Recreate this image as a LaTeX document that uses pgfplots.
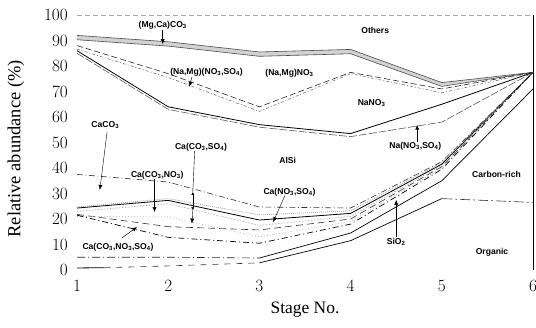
\documentclass[border=0pt]{standalone}
\usepackage{fontspec}
\setmainfont{Liberation Serif}
\newfontfamily\lab{Liberation Sans}
\usepackage{pgfplots}
\pgfplotsset{compat=1.18}
\usepgfplotslibrary{fillbetween}
\usetikzlibrary{arrows.meta}
\tikzset{ann/.style={font=\lab\bfseries\fontsize{8.6}{9}\selectfont, inner sep=0pt},
  arr/.style={black, line width=0.5bp, -{Latex[length=5bp,width=4bp]}}}
\begin{document}
\begin{tikzpicture}
\begin{axis}[at={(0,0)},anchor=south west,scale only axis,width=456bp,height=255bp,
  xmin=1,xmax=6,ymin=0,ymax=100,
  axis line style={draw=none}, major tick length=0pt,
  xtick={1,2,3,4,5,6}, ytick={0,10,...,100},
  tick label style={font=\fontsize{17.5}{18}\selectfont},
  yticklabel style={inner sep=0pt,anchor=east,xshift=-9bp},
  xticklabel style={inner sep=0pt,anchor=north,yshift=-10bp},
  xlabel={Stage No.}, ylabel={Relative abundance (\%)},
  xlabel style={font=\fontsize{17.5}{18}\selectfont,at={(axis description cs:0.5,-0.157)},anchor=center},
  ylabel style={font=\fontsize{18.5}{19}\selectfont,at={(axis description cs:-0.134,0.475)},anchor=center},
  clip=false]
% frame parts
\addplot[gray!70, line width=0.8bp, dash pattern=on 5bp off 3bp] coordinates {(1,100)(6,100)};
\addplot[black, line width=0.9bp] coordinates {(6,0)(6,100)};
% (Mg,Ca)CO3 band
\addplot[name path=T1, black!70, line width=0.6bp] coordinates {(1,92)(2,89.5)(3,85.5)(4,86.5)(5,73.5)(6,77.5)};
\addplot[name path=T2, black!70, line width=0.6bp] coordinates {(1,90.3)(2,87.8)(3,83.8)(4,84.8)(5,72)(6,77.5)};
\addplot[gray!35] fill between[of=T1 and T2];
% (Na,Mg)(NO3,SO4)
\addplot[black!85, line width=0.6bp, dash pattern=on 6bp off 3bp] coordinates {(1,88)(2,77)(3,64)(4,77.5)(5,71)(6,77.5)};
\addplot[black!55, line width=0.6bp, dash pattern=on 3bp off 2bp on 1bp off 2bp] coordinates {(1,86.6)(2,75.5)(3,62.2)(4,77)(5,69.5)(6,77.5)};
% Na(NO3,SO4)
\addplot[black, line width=0.8bp] coordinates {(1,86)(2,64)(3,57)(4,53.5)(5,65)(6,77.5)};
\addplot[black!65, line width=0.6bp, dash pattern=on 8bp off 2bp] coordinates {(1,85)(2,63)(3,56)(4,52.3)(5,58)(6,77.5)};
% AlSi lower (CaCO3 top)
\addplot[black!80, line width=0.6bp, dash pattern=on 6bp off 2.5bp on 1bp off 2.5bp] coordinates {(1,37.5)(2,34.5)(3,24.7)(4,24.3)(5,42.5)(6,77.5)};
% Ca lines
\addplot[gray!65, line width=0.8bp, dash pattern=on 1bp off 1bp] coordinates {(1,24.7)(2,28)(3,21.6)(4,23.2)(5,42)(6,77.5)};
\addplot[black, line width=0.8bp] coordinates {(1,24.3)(2,27.3)(3,19.6)(4,22.2)(5,41.5)(6,77.5)};
\addplot[gray!65, line width=0.6bp, dash pattern=on 1.5bp off 1.5bp] coordinates {(1,23)(2,26)(3,17.5)(4,21)(5,41)(6,77.5)};
\addplot[black!80, line width=0.6bp, dash pattern=on 7bp off 4bp] coordinates {(1,21.8)(2,17)(3,15.7)(4,20)(5,40.5)(6,77.5)};
\addplot[gray!65, line width=0.6bp, dash pattern=on 1bp off 2bp] coordinates {(1,21)(2,20.8)(3,13)(4,19)(5,40)(6,77.5)};
\addplot[black, line width=0.7bp, dash pattern=on 6bp off 3bp on 1bp off 3bp] coordinates {(1,21.5)(2,12.8)(3,10.5)(4,18)(5,39.5)(6,77.5)};
% Carbon-rich top / SiO2 bottom
\addplot[black!85, line width=0.6bp, dash pattern=on 8bp off 3bp on 1bp off 3bp] coordinates {(1,5)(2,5)(3,4.7)};
\addplot[black, line width=0.7bp] coordinates {(3,4.7)(4,14.5)(5,35)(6,71)};
% Organic top
\addplot[black, line width=0.8bp] coordinates {(1,0.8)(1.3,0.9)};
\addplot[black!80, line width=0.6bp, dash pattern=on 6bp off 6bp] coordinates {(1.3,0.9)(2,1.6)(3,2.8)};
\addplot[black, line width=0.7bp] coordinates {(3,2.8)(4,11.5)(5,28)};
\addplot[black!80, line width=0.6bp, dash pattern=on 10bp off 3bp on 2bp off 3bp] coordinates {(5,28)(6,26.5)};
% labels
\node[ann] at (axis cs:4.27,94.1) {Others};
\node[ann] at (axis cs:1.94,96) {(Mg,Ca)CO\textsubscript{3}};
\node[ann] at (axis cs:2.42,77.6) {(Na,Mg)(NO\textsubscript{3},SO\textsubscript{4})};
\node[ann] at (axis cs:3.33,77.3) {(Na,Mg)NO\textsubscript{3}};
\node[ann] at (axis cs:4.23,65.5) {NaNO\textsubscript{3}};
\node[ann] at (axis cs:4.71,48.6) {Na(NO\textsubscript{3},SO\textsubscript{4})};
\node[ann] at (axis cs:3.31,43.1) {AlSi};
\node[ann] at (axis cs:1.31,56.9) {CaCO\textsubscript{3}};
\node[ann] at (axis cs:2.36,48.2) {Ca(CO\textsubscript{3},SO\textsubscript{4})};
\node[ann] at (axis cs:1.88,37.3) {Ca(CO\textsubscript{3},NO\textsubscript{3})};
\node[ann] at (axis cs:3.33,30.6) {Ca(NO\textsubscript{3},SO\textsubscript{4})};
\node[ann] at (axis cs:1.45,9.0) {Ca(CO\textsubscript{3},NO\textsubscript{3},SO\textsubscript{4})};
\node[ann] at (axis cs:5.6,37.3) {Carbon-rich};
\node[ann] at (axis cs:4.5,11) {SiO\textsubscript{2}};
\node[ann] at (axis cs:5.55,7.1) {Organic};
% arrows
\draw[arr] (axis cs:1.94,94.3) -- (axis cs:1.94,88.6);
\draw[arr] (axis cs:2.26,75.6) -- (axis cs:2.23,71.8);
\draw[arr] (axis cs:4.73,50.3) -- (axis cs:4.73,57);
\draw[arr, line width=0.4bp] (axis cs:1.33,54.2) -- (axis cs:1.25,31.4);
\draw[arr, line width=0.4bp] (axis cs:1.85,35.6) -- (axis cs:1.85,22.7);
\draw[black, line width=0.4bp] (axis cs:2.29,46.6) -- (axis cs:2.27,30.6);
\draw[black, line width=0.4bp, {Latex[length=3bp,width=3bp]}-{Latex[length=3bp,width=3bp]}] (axis cs:2.27,30.6) -- (axis cs:2.27,23.5);
\draw[arr, line width=0.4bp] (axis cs:2.27,23.5) -- (axis cs:2.26,18.2);
\draw[arr, line width=0.4bp] (axis cs:3.28,29.2) -- (axis cs:3.15,18.8);
\draw[arr] (axis cs:1.49,12.5) -- (axis cs:1.66,16.9);
\draw[arr, line width=0.4bp] (axis cs:4.5,13) -- (axis cs:4.5,27.5);
\end{axis}
\pgfresetboundingbox
\path (-77bp,-58bp) rectangle (459bp,270bp);
\end{tikzpicture}
\end{document}
